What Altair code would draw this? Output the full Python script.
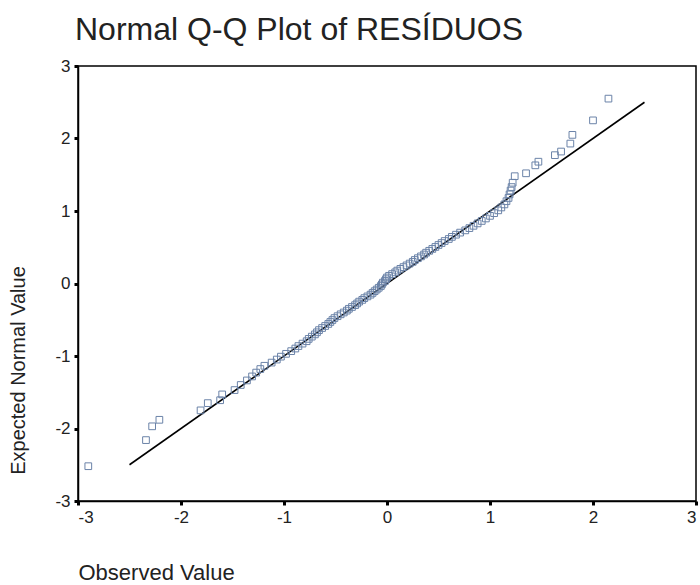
import altair as alt
import pandas as pd

observed = [
    -2.90, -2.34, -2.28, -2.21, -1.81, -1.74, -1.62, -1.60, -1.48, -1.42,
    -1.36, -1.31, -1.27, -1.23, -1.19, -1.12, -1.07, -1.03, -0.98, -0.93,
    -0.89, -0.86, -0.82, -0.78, -0.76, -0.73, -0.70, -0.68, -0.66, -0.63,
    -0.60, -0.57, -0.55, -0.53, -0.51, -0.48, -0.45, -0.42, -0.39, -0.37,
    -0.34, -0.31, -0.29, -0.27, -0.24, -0.22, -0.19, -0.16, -0.14, -0.12,
    -0.10, -0.08, -0.06, -0.05,
    -0.04, -0.02, -0.01, 0.00, 0.02, 0.05, 0.08, 0.10, 0.13, 0.16,
    0.19, 0.22, 0.25, 0.27, 0.30, 0.33, 0.36, 0.38, 0.41, 0.44,
    0.47, 0.50, 0.53, 0.56, 0.60, 0.63, 0.67, 0.71, 0.76, 0.80,
    0.84, 0.88, 0.92, 0.96, 1.00, 1.04, 1.08, 1.11, 1.14, 1.16,
    1.18, 1.19, 1.20, 1.21, 1.22, 1.24, 1.35, 1.44, 1.47, 1.63,
    1.69, 1.78, 1.80, 2.00, 2.15,
]
expected = [
    -2.52, -2.16, -1.97, -1.88, -1.75, -1.65, -1.61, -1.53, -1.47, -1.40,
    -1.337, -1.282, -1.229, -1.18, -1.135, -1.091, -1.049, -1.009, -0.97, -0.933,
    -0.897, -0.863, -0.829, -0.796, -0.764, -0.733, -0.702, -0.673, -0.643, -0.614,
    -0.586, -0.558, -0.531, -0.504, -0.477, -0.451, -0.425, -0.40, -0.374, -0.349,
    -0.324, -0.299, -0.275, -0.25, -0.226, -0.202, -0.178, -0.154, -0.13, -0.106,
    -0.083, -0.059, -0.035, -0.012,
    0.012, 0.035, 0.059, 0.083, 0.106, 0.13, 0.154, 0.178, 0.202, 0.226,
    0.25, 0.275, 0.299, 0.324, 0.349, 0.374, 0.40, 0.425, 0.451, 0.477,
    0.504, 0.531, 0.558, 0.586, 0.614, 0.643, 0.673, 0.702, 0.733, 0.764,
    0.796, 0.829, 0.863, 0.897, 0.933, 0.97, 1.009, 1.049, 1.091, 1.135,
    1.18, 1.229, 1.282, 1.33, 1.39, 1.48, 1.52, 1.63, 1.68, 1.77,
    1.82, 1.93, 2.05, 2.25, 2.55,
]
line_x = [-2.5, 2.5]
line_y = [-2.5, 2.5]
ticks = [-3, -2, -1, 0, 1, 2, 3]

pts = pd.DataFrame({"obs": observed, "exp": expected})
ref = pd.DataFrame({"obs": line_x, "exp": line_y})

FONT = "Liberation Sans"

xscale = alt.Scale(domain=[-3, 3], nice=False, zero=False)
yscale = alt.Scale(domain=[-3, 3], nice=False, zero=False)

xaxis = alt.Axis(
    title="Observed Value", values=ticks, labelExpr="'' + datum.value", grid=False,
    domainColor="black", domainWidth=1.5, tickColor="black", tickWidth=3, tickSize=4,
    labelFont=FONT, labelFontSize=17, labelColor="#222", labelPadding=4,
    titleFont=FONT, titleFontSize=22, titleFontWeight="normal", titleColor="#222",
    titleX=0, titleY=78, titleAlign="left", titleBaseline="alphabetic",
)
yaxis = alt.Axis(
    title="Expected Normal Value", values=ticks, labelExpr="'' + datum.value", grid=False,
    domainColor="black", domainWidth=1.5, tickColor="black", tickWidth=3, tickSize=4,
    labelFont=FONT, labelFontSize=17, labelColor="#222", labelPadding=4,
    titleFont=FONT, titleFontSize=20, titleFontWeight="normal", titleColor="#222",
    titleX=-60, titleY=304, titleAngle=270, titleAlign="center", titleBaseline="middle",
)

points = alt.Chart(pts).mark_point(
    shape="square", filled=False, size=45, strokeWidth=1, color="#6b83a8", opacity=1
).encode(
    x=alt.X("obs:Q", scale=xscale, axis=xaxis),
    y=alt.Y("exp:Q", scale=yscale, axis=yaxis),
)

line = alt.Chart(ref).mark_line(color="black", strokeWidth=1.6).encode(
    x=alt.X("obs:Q", scale=xscale),
    y=alt.Y("exp:Q", scale=yscale),
)

chart = alt.layer(line, points).properties(
    width=618,
    height=435,
    title=alt.TitleParams(
        "Normal Q-Q Plot of RESÍDUOS", anchor="start", frame="group", font=FONT,
        fontSize=32, fontWeight="normal", color="#222", offset=22, dx=-3, dy=37,
        baseline="alphabetic",
    ),
    autosize=alt.AutoSizeParams(type="none"),
    padding={"left": 78, "top": 66, "right": 4, "bottom": 84},
).configure(
    background="white",
    view=alt.ViewConfig(stroke="black", strokeWidth=1.5),
)

chart.save("out.html", embed_options={"renderer": "svg", "actions": False})
